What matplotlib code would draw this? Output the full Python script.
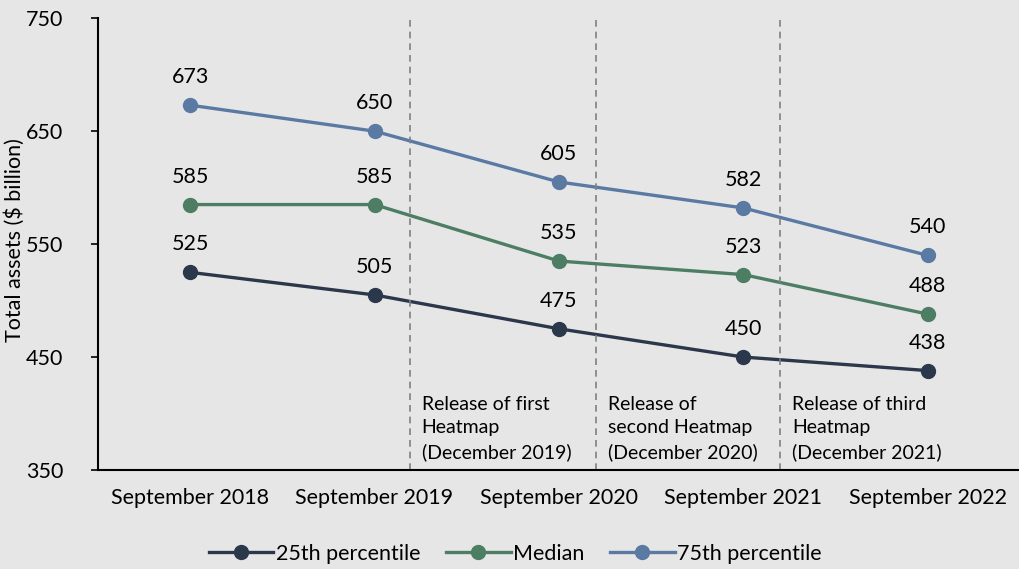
import matplotlib.pyplot as plt
import numpy as np

plt.rcParams['font.family'] = ['Lato', 'DejaVu Sans']

periods = ['September 2018', 'September 2019', 'September 2020',
           'September 2021', 'September 2022']
p25 = [525, 505, 475, 450, 438]
median = [585, 585, 535, 523, 488]
p75 = [673, 650, 605, 582, 540]

release_pos = [1.19, 2.2, 3.2]
release_text = ['Release of first\nHeatmap\n(December 2019)',
                'Release of\nsecond Heatmap\n(December 2020)',
                'Release of third\nHeatmap\n(December 2021)']

bg = '#e6e6e6'
fig = plt.figure(figsize=(10.2, 5.69), dpi=100, facecolor=bg)
ax = fig.add_axes([0.096, 0.174, 0.904, 0.794], facecolor=bg)

x = np.arange(len(periods))
series = [(p25, '25th percentile', '#2b374b'),
          (median, 'Median', '#4d7e63'),
          (p75, '75th percentile', '#5a7aa4')]
for vals, name, col in series:
    ax.plot(x, vals, color=col, lw=2.4, marker='o', ms=10, label=name)
    for xi, v in zip(x, vals):
        ax.annotate(str(v), (xi, v), xytext=(0, 13), textcoords='offset points',
                    ha='center', va='bottom', fontsize=15.5)

for xp, txt in zip(release_pos, release_text):
    ax.axvline(xp, color='#808080', lw=1.2, ls=(0, (4, 3)))
    ax.text(xp + 0.065, 358, txt, ha='left', va='bottom', fontsize=14,
            linespacing=1.45)

ax.set_xlim(-0.5, 4.5)
ax.set_ylim(350, 750)
ax.set_yticks([350, 450, 550, 650, 750])
ax.set_xticks(x)
ax.set_xticklabels(periods, fontsize=15.5)
ax.tick_params(axis='y', labelsize=15.5, length=5, pad=20, width=1.2)
ax.tick_params(axis='x', length=0, pad=13)
for s in ['top', 'right']:
    ax.spines[s].set_visible(False)
for s in ['left', 'bottom']:
    ax.spines[s].set_linewidth(1.5)
ax.set_ylabel('Total assets (\\$ billion)', fontsize=15.5)
ax.yaxis.set_label_coords(-0.079, 0.51)

fig.legend(loc='lower center', bbox_to_anchor=(0.505, -0.025), ncol=3,
           frameon=False, fontsize=15.5, handlelength=3, columnspacing=1.2,
           handletextpad=0.1)

fig.savefig('out.png', facecolor=bg)
